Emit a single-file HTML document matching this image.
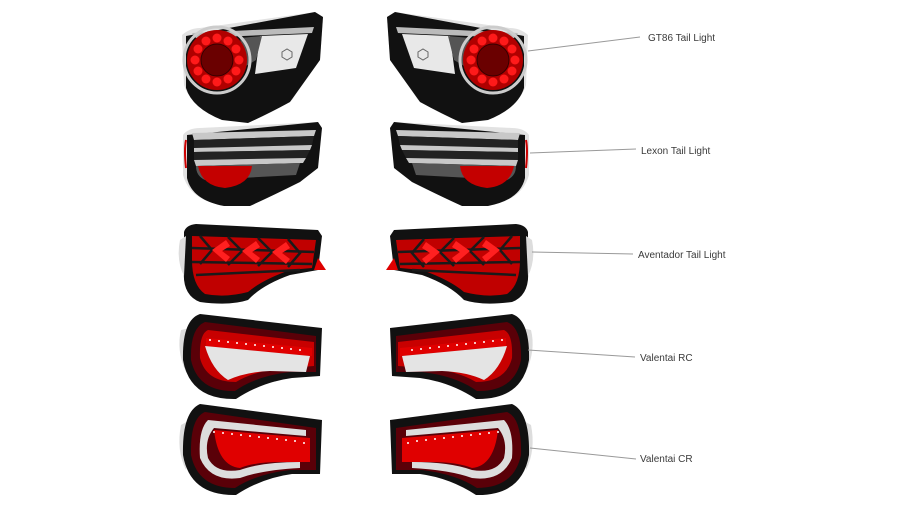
<!DOCTYPE html>
<html><head><meta charset="utf-8"><style>
html,body{margin:0;padding:0;background:#fff;width:910px;height:512px;overflow:hidden}
svg{display:block}
text{font-family:"Liberation Sans",sans-serif;font-size:10px;fill:#3a3a3a}
</style></head><body>
<svg width="910" height="512" viewBox="0 0 910 512">
<defs>
<g id="gt86">
 <path d="M182,35 Q190,28 200,28 L315,12 L323,17 L320,60 L300,88 L292,100 Q270,112 250,122 L220,118 Q190,105 184,85 Z" fill="#e2e2e2"/>
 <path d="M186,36 L315,12 L323,17 L320,60 L300,88 L290,102 Q268,114 248,123 L222,120 Q192,108 186,88 Z" fill="#111"/>
 <path d="M192,33 L314,27 L312,33 L196,38 Z" fill="#bbb"/>
 <path d="M260,36 L308,34 L296,68 L255,74 Z" fill="#e8e8e8"/>
 <path d="M240,38 L262,36 L256,60 L246,66 Z" fill="#555"/>
 <polygon points="282,52 287,49 292,52 292,57 287,60 282,57" fill="none" stroke="#666" stroke-width="1"/>
 <circle cx="217" cy="60" r="33" fill="none" stroke="#ccc" stroke-width="3"/>
 <circle cx="217" cy="60" r="30" fill="#b00000"/>
 <circle cx="217" cy="60" r="16" fill="#6a0000" stroke="#300" stroke-width="1"/>
 <g fill="#ff1a1a">
  <circle cx="217" cy="38" r="4.5"/><circle cx="228" cy="41" r="4.5"/><circle cx="236" cy="49" r="4.5"/><circle cx="239" cy="60" r="4.5"/><circle cx="236" cy="71" r="4.5"/><circle cx="228" cy="79" r="4.5"/><circle cx="217" cy="82" r="4.5"/><circle cx="206" cy="79" r="4.5"/><circle cx="198" cy="71" r="4.5"/><circle cx="195" cy="60" r="4.5"/><circle cx="198" cy="49" r="4.5"/><circle cx="206" cy="41" r="4.5"/>
 </g>
</g>
<g id="lexon">
 <path d="M183,135 Q188,128 200,128 L318,122 L322,128 L318,165 L300,182 Q270,195 250,205 L222,205 Q190,200 183,175 Z" fill="#e2e2e2"/>
 <path d="M187,135 L318,122 L322,128 L318,168 L300,182 Q272,196 250,206 L224,206 Q192,200 187,178 Z" fill="#111"/>
 <path d="M192,133 L316,130 L314,136 L194,140 Z" fill="#c8c8c8"/>
 <path d="M194,140 L314,136 L312,145 L194,148 Z" fill="#222"/>
 <path d="M194,148 L312,145 L310,150 L194,152 Z" fill="#c8c8c8"/>
 <path d="M194,152 L310,150 L306,158 L194,160 Z" fill="#222"/>
 <path d="M194,160 L306,158 L303,163 L196,166 Z" fill="#c8c8c8"/>
 <path d="M196,166 L300,163 L296,175 L205,180 Q196,176 196,166 Z" fill="#555"/>
 <path d="M198,166 L252,166 Q250,185 225,188 Q202,186 198,166 Z" fill="#c40000"/>
 <path d="M186,140 Q184,150 186,168" stroke="#c00" stroke-width="2" fill="none"/>
</g>
<g id="aven">
 <path d="M184,232 Q186,225 196,224 L318,230 L322,236 L318,270 L290,275 Q262,285 248,300 Q230,306 200,302 Q182,295 184,270 Z" fill="#111"/>
 <path d="M180,240 Q176,260 184,276 L186,236 Z" fill="#ddd"/>
 <path d="M192,236 L316,240 L312,268 L290,270 Q262,280 248,292 Q225,298 205,294 Q192,285 192,260 Z" fill="#c00000"/>
 <g stroke="#1a1a1a" stroke-width="2.5" fill="none">
  <path d="M192,248 L314,252"/><path d="M192,262 L312,264"/><path d="M196,275 L300,270"/>
  <path d="M200,236 L212,250 L200,264"/><path d="M228,237 L242,251 L228,265"/><path d="M258,238 L272,252 L258,266"/><path d="M288,239 L300,253 L288,267"/>
 </g>
 <g fill="#ff2020">
  <path d="M212,250 L226,240 L230,246 L222,251 L230,257 L226,262 Z"/>
  <path d="M242,251 L256,241 L260,247 L252,252 L260,258 L256,263 Z"/>
  <path d="M272,252 L286,242 L290,248 L282,253 L290,259 L286,264 Z"/>
 </g>
 <path d="M318,258 L326,270 L314,270 Z" fill="#d00"/>
</g>
<g id="vrc">
 <path d="M181,330 Q176,350 186,372 L190,328 Z" fill="#ddd"/>
 <path d="M200,314 L322,328 L320,376 L292,378 Q262,382 236,399 Q190,400 183,360 Q182,320 200,314 Z" fill="#111"/>
 <path d="M205,322 L316,336 L316,372 L290,372 Q256,376 235,391 Q198,392 191,360 Q190,328 205,322 Z" fill="#5a0008"/>
 <path d="M208,330 L314,342 L314,366 L288,368 Q256,370 236,382 Q206,382 200,358 Q199,334 208,330 Z" fill="#c80000"/>
 <path d="M206,338 L312,348 L312,356 L206,346 Z" fill="#e00000"/>
 <path d="M205,346 L310,356 L306,372 L270,371 Q245,372 228,380 Q212,370 205,346 Z" fill="#e4e4e4"/>
 <g fill="#fff"><circle cx="210" cy="340" r="1"/><circle cx="219" cy="341" r="1"/><circle cx="228" cy="342" r="1"/><circle cx="237" cy="343" r="1"/><circle cx="246" cy="344" r="1"/><circle cx="255" cy="345" r="1"/><circle cx="264" cy="346" r="1"/><circle cx="273" cy="347" r="1"/><circle cx="282" cy="348" r="1"/><circle cx="291" cy="349" r="1"/><circle cx="300" cy="350" r="1"/></g>
</g>
<g id="vcr">
 <path d="M181,425 Q176,450 186,470 L190,420 Z" fill="#ddd"/>
 <path d="M200,404 L322,420 L320,474 L292,474 Q262,478 236,495 Q190,496 183,455 Q182,412 200,404 Z" fill="#111"/>
 <path d="M205,412 L316,428 L316,470 L290,470 Q256,474 235,488 Q198,488 191,455 Q190,418 205,412 Z" fill="#5a0008"/>
 <path d="M208,420 L306,430 L306,436 L214,428 Q204,440 208,458 Q216,474 240,470 Q262,462 300,462 L300,468 Q262,470 240,478 Q210,482 200,458 Q198,430 208,420 Z" fill="#ddd"/>
 <path d="M214,430 L310,438 L310,462 L280,462 Q255,462 240,468 Q218,466 214,430 Z" fill="#e00000"/>
 <g fill="#fff"><circle cx="214" cy="432" r="1"/><circle cx="223" cy="433" r="1"/><circle cx="232" cy="434" r="1"/><circle cx="241" cy="435" r="1"/><circle cx="250" cy="436" r="1"/><circle cx="259" cy="437" r="1"/><circle cx="268" cy="438" r="1"/><circle cx="277" cy="439" r="1"/><circle cx="286" cy="440" r="1"/><circle cx="295" cy="441" r="1"/><circle cx="304" cy="443" r="1"/></g>
</g>
</defs>
<use href="#gt86"/><use href="#gt86" transform="translate(710,0) scale(-1,1)"/>
<use href="#lexon"/><use href="#lexon" transform="translate(712,0) scale(-1,1)"/>
<use href="#aven"/><use href="#aven" transform="translate(712,0) scale(-1,1)"/>
<use href="#vrc"/><use href="#vrc" transform="translate(712,0) scale(-1,1)"/>
<use href="#vcr"/><use href="#vcr" transform="translate(712,0) scale(-1,1)"/>
<g stroke="#999" stroke-width="1">
 <line x1="528" y1="51" x2="640" y2="37"/>
 <line x1="530" y1="153" x2="636" y2="149"/>
 <line x1="532" y1="252" x2="633" y2="254"/>
 <line x1="528" y1="350" x2="635" y2="357"/>
 <line x1="530" y1="448" x2="636" y2="459"/>
</g>
<text x="648" y="41">GT86 Tail Light</text>
<text x="641" y="154">Lexon Tail Light</text>
<text x="638" y="258">Aventador Tail Light</text>
<text x="640" y="361">Valentai RC</text>
<text x="640" y="462">Valentai CR</text>
</svg>
</body></html>
